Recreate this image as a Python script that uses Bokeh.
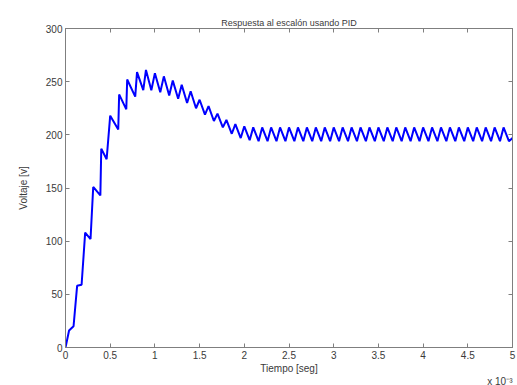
from bokeh.plotting import figure
from bokeh.models import LinearAxis, FixedTicker, Title, Range1d
from bokeh.embed import file_html
from bokeh.resources import INLINE

# time in units of 1e-3 s, voltage in V
t = [0.00, 0.04, 0.09, 0.13, 0.18, 0.22, 0.28, 0.31, 0.39, 0.40, 0.46, 0.50, 0.59, 0.60, 0.68, 0.69, 0.78,
     0.80, 0.87, 0.90, 0.96, 1.00, 1.06, 1.10, 1.16, 1.20, 1.26, 1.30, 1.36, 1.40, 1.46, 1.50, 1.56,
     1.60, 1.66, 1.70, 1.76, 1.80, 1.86, 1.90, 1.96, 2.00, 2.06, 2.10, 2.16, 2.20, 2.26, 2.30, 2.36,
     2.40, 2.46, 2.50, 2.56, 2.60, 2.66, 2.70, 2.76, 2.80, 2.86, 2.90, 2.96, 3.00, 3.06, 3.10, 3.16,
     3.20, 3.26, 3.30, 3.36, 3.40, 3.46, 3.50, 3.56, 3.60, 3.66, 3.70, 3.76, 3.80, 3.86, 3.90, 3.96,
     4.00, 4.06, 4.10, 4.16, 4.20, 4.26, 4.30, 4.36, 4.40, 4.46, 4.50, 4.56, 4.60, 4.66, 4.70, 4.76,
     4.80, 4.86, 4.90, 4.96, 5.00]
v = [0, 16, 20, 58, 59, 108, 102, 151, 143, 187, 177, 218, 205, 238, 224, 252, 236,
     259, 242, 261, 242, 258, 240, 255, 237, 251, 234, 247, 230, 241, 225, 233, 219,
     227, 213, 220, 207, 214, 201, 210, 197, 208, 195, 207, 194, 207, 194, 207, 194,
     207, 194, 207, 194, 207, 194, 207, 194, 207, 194, 207, 194, 207, 194, 207, 194,
     207, 194, 207, 194, 207, 194, 207, 194, 207, 194, 207, 194, 207, 194, 207, 194,
     207, 194, 207, 194, 207, 194, 207, 194, 207, 194, 207, 194, 207, 194, 207, 194,
     207, 194, 207, 194, 197]

x_ticks = [0, 0.5, 1, 1.5, 2, 2.5, 3, 3.5, 4, 4.5, 5]
x_tick_labels = ["0", "0.5", "1", "1.5", "2", "2.5", "3", "3.5", "4", "4.5", "5"]
y_ticks = [0, 50, 100, 150, 200, 250, 300]

FONT = "Liberation Sans"
AX = "#7f7f7f"
TXT = "#3a3a3a"

p = figure(frame_width=447, frame_height=319, output_backend="svg", toolbar_location=None,
           x_range=Range1d(0, 5), y_range=Range1d(0, 300),
           min_border_left=65, min_border_right=4, min_border_top=28, min_border_bottom=38,
           background_fill_color="white", border_fill_color="white")
p.grid.visible = False
p.outline_line_color = AX

p.line(t, v, line_color="#0000ff", line_width=2)

def style(ax, labels=True):
    ax.axis_line_color = AX
    ax.major_tick_line_color = AX
    ax.major_tick_in = 4
    ax.major_tick_out = 0
    ax.minor_tick_line_color = None
    ax.major_label_text_font = FONT
    ax.major_label_text_font_size = "10px" if labels else "0px"
    ax.major_label_text_color = TXT
    ax.major_label_standoff = 3 if labels else 0
    ax.axis_label_text_font = FONT
    ax.axis_label_text_font_size = "10px"
    ax.axis_label_text_font_style = "normal"
    ax.axis_label_text_color = TXT

xa = p.xaxis[0]
xa.ticker = FixedTicker(ticks=x_ticks)
xa.major_label_overrides = {tk: lb for tk, lb in zip(x_ticks, x_tick_labels)}
xa.axis_label = "Tiempo [seg]"
xa.axis_label_standoff = 1
style(xa)

ya = p.yaxis[0]
ya.ticker = FixedTicker(ticks=y_ticks)
ya.axis_label = "Voltaje [v]"
ya.axis_label_standoff = 14
style(ya)

top = LinearAxis(ticker=FixedTicker(ticks=x_ticks))
style(top, labels=False)
p.add_layout(top, "above")
right = LinearAxis(ticker=FixedTicker(ticks=y_ticks))
style(right, labels=False)
p.add_layout(right, "right")

p.title.text = "Respuesta al escalón usando PID"
p.title.align = "center"
p.title.text_font = FONT
p.title.text_font_size = "9px"
p.title.text_font_style = "normal"
p.title.text_color = TXT
p.title.offset = 0
p.title.standoff = 2

p.add_layout(Title(text="x 10\u207b\u00b3", align="right", text_font=FONT, text_font_size="10px",
                   text_font_style="normal", text_color=TXT, offset=0, standoff=-6), "below")

open("out.html", "w").write(file_html(p, INLINE))
